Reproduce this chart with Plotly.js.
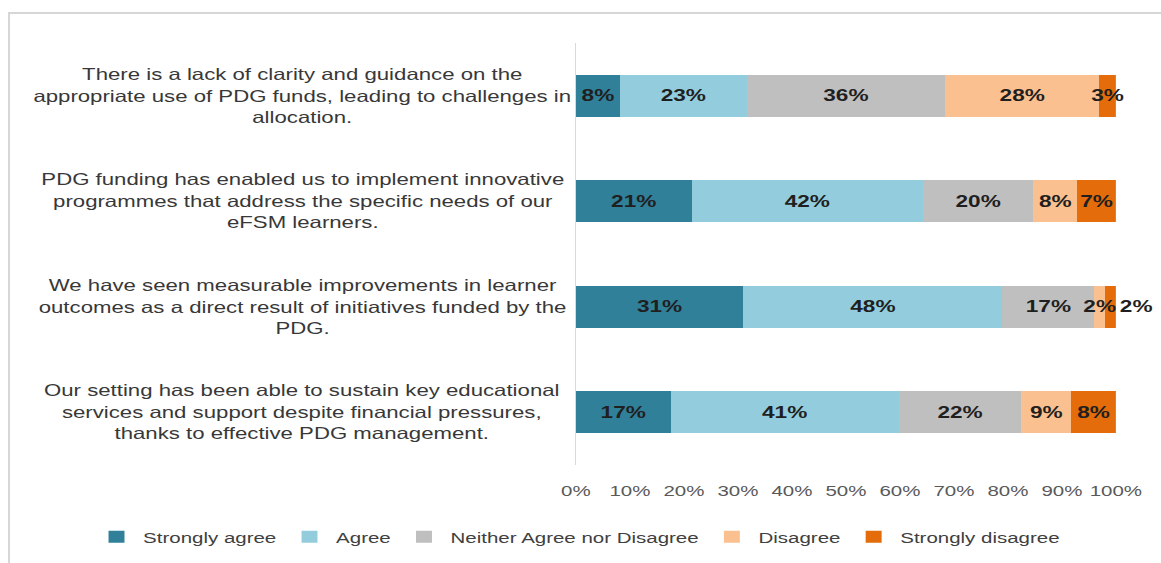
<!DOCTYPE html>
<html>
<head>
<meta charset="utf-8">
<script src="https://cdn.plot.ly/plotly-3.0.1.min.js"></script>
<style>
  html, body { margin: 0; padding: 0; background: #ffffff; overflow: hidden; }
  #frame { position: absolute; left: 8px; top: 12px; width: 1200px; height: 600px;
           border-left: 2px solid #d6d6d6; border-top: 2px solid #d6d6d6; box-sizing: border-box; }
  #wrap { position: absolute; left: 0; top: 0; width: 873px; height: 563px;
          transform: scale(1.33, 1); transform-origin: 0 0; }
  #chart { width: 873px; height: 563px; }
</style>
</head>
<body>
<div id="frame"></div>
<div id="wrap"><div id="chart"></div></div>
<script>
// ---- data ----
const categories = [
  "There is a lack of clarity and guidance on the<br>appropriate use of PDG funds, leading to challenges in<br>allocation.",
  "PDG funding has enabled us to implement innovative<br>programmes that address the specific needs of our<br>eFSM learners.",
  "We have seen measurable improvements in learner<br>outcomes as a direct result of initiatives funded by the<br>PDG.",
  "Our setting has been able to sustain key educational<br>services and support despite financial pressures,<br>thanks to effective PDG management."
];
const seriesNames = ["Strongly agree", "Agree", "Neither Agree nor Disagree", "Disagree", "Strongly disagree"];
const stronglyAgree    = [8, 21, 31, 17];
const agree            = [23, 42, 48, 41];
const neither          = [36, 20, 17, 22];
const disagree         = [28, 8, 2, 9];
const stronglyDisagree = [3, 7, 2, 8];
const tickValues = [0, 10, 20, 30, 40, 50, 60, 70, 80, 90, 100];
const tickLabels = ["0%", "10%", "20%", "30%", "40%", "50%", "60%", "70%", "80%", "90%", "100%"];

// ---- styles ----
const colors = ["#31809a", "#93cddd", "#bfbfbf", "#fbc08f", "#e46c0a"];
const FONT = "Liberation Sans, Arial, sans-serif";
const allSeries = [stronglyAgree, agree, neither, disagree, stronglyDisagree];

const traces = allSeries.map((vals, i) => {
  const isLast = i === allSeries.length - 1;
  return {
    type: "bar",
    orientation: "h",
    name: seriesNames[i],
    y: categories,
    x: vals,
    text: vals.map(v => v + "%"),
    textposition: isLast ? vals.map((v, k) => (k === 2 ? "outside" : "inside")) : "inside",
    insidetextanchor: "middle",
    textangle: 0,
    cliponaxis: false,
    constraintext: "none",
    textfont: { family: FONT, size: 17, color: "#1f1f1f", weight: "bold" },
    outsidetextfont: { family: FONT, size: 17, color: "#1f1f1f", weight: "bold" },
    marker: { color: colors[i], line: { width: 0 } },
    hoverinfo: "skip"
  };
});

const annotations = categories.map(c => ({
  xref: "paper", yref: "y",
  x: -0.507, y: c,
  xanchor: "center", yanchor: "middle",
  text: c, align: "center", showarrow: false,
  font: { family: FONT, size: 16.7, color: "#383838" }
}));

const layout = {
  width: 873, height: 563,
  margin: { l: 433, r: 34, t: 43, b: 98, autoexpand: false },
  paper_bgcolor: "rgba(0,0,0,0)",
  plot_bgcolor: "rgba(0,0,0,0)",
  barmode: "stack",
  barnorm: "percent",
  bargap: 0.605,
  uniformtext: { mode: "show", minsize: 17 },
  font: { family: FONT, color: "#595959" },
  showlegend: true,
  legend: {
    orientation: "h",
    xref: "paper", yref: "paper",
    x: -0.9, xanchor: "left",
    y: -0.171, yanchor: "middle",
    font: { family: FONT, size: 15.4, color: "#404040" },
    traceorder: "normal",
    itemwidth: 30
  },
  xaxis: {
    range: [0, 100],
    tickvals: tickValues,
    ticktext: tickLabels,
    showgrid: false, zeroline: false, showline: false,
    ticks: "",
    ticklabelstandoff: 15,
    tickfont: { family: FONT, size: 15.4, color: "#595959" },
    fixedrange: true
  },
  yaxis: {
    autorange: "reversed",
    showticklabels: false,
    showgrid: false, zeroline: false,
    showline: true, linecolor: "#d9d9d9", linewidth: 1,
    ticks: "",
    fixedrange: true
  },
  annotations: annotations,
  hovermode: false
};

Plotly.newPlot("chart", traces, layout, { displayModeBar: false, staticPlot: true }).then(gd => {
  // keep the value labels above all stacked segments (like the original)
  const layer = gd.querySelector(".barlayer");
  if (layer) layer.querySelectorAll("text.bartext").forEach(t => layer.appendChild(t));
});
</script>
</body>
</html>
